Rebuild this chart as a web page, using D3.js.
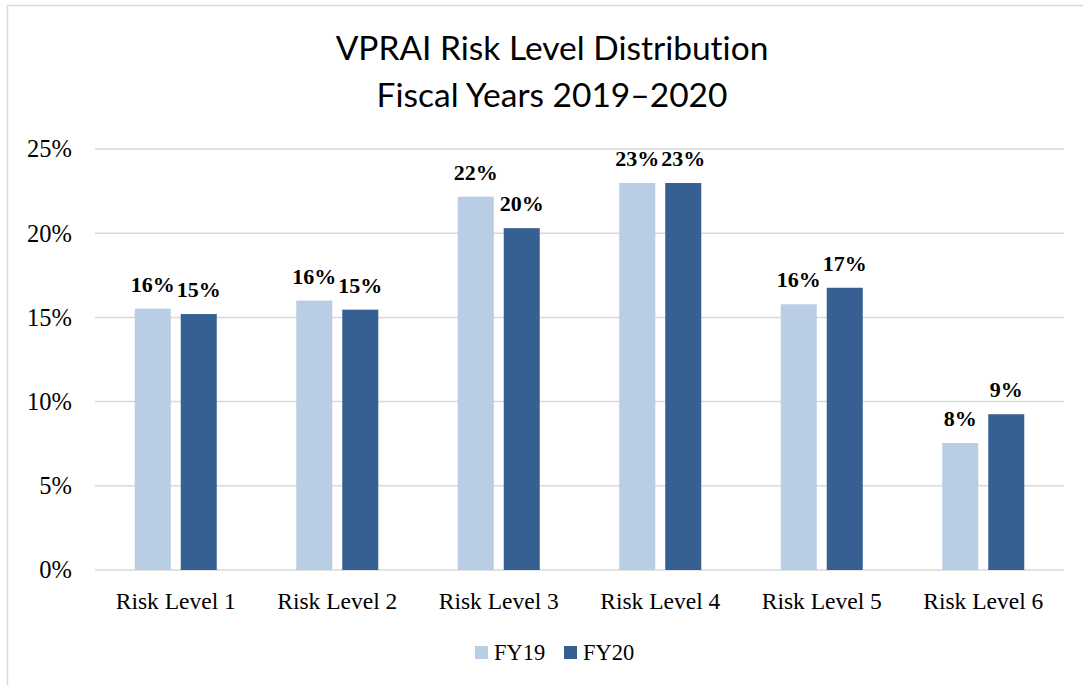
<!DOCTYPE html>
<html>
<head>
<meta charset="utf-8">
<script src="https://cdn.jsdelivr.net/npm/d3@7"></script>
<style>
  body { margin: 0; background: #fff; }
  svg { display: block; }
  text { font-variant-ligatures: none; }
</style>
</head>
<body>
<div id="chart"></div>
<script>

// data
const categories = ["Risk Level 1", "Risk Level 2", "Risk Level 3", "Risk Level 4", "Risk Level 5", "Risk Level 6"];
const seriesNames = ["FY19", "FY20"];
const fy19 = [0.1552, 0.160, 0.2217, 0.2298, 0.1578, 0.0754];
const fy20 = [0.1520, 0.1546, 0.2030, 0.2298, 0.1676, 0.0925];
const yTicks = [0, 0.05, 0.10, 0.15, 0.20, 0.25];
const titleLines = ["VPRAI Risk Level Distribution", "Fiscal Years 2019\u20132020"];

const colors = { FY19: "#B9CDE5", FY20: "#376092" };

const W = 1083, H = 685;
const margin = { top: 149, right: 19, bottom: 115, left: 95 };
const serif = "'Liberation Serif', 'Times New Roman', serif";
const sans = "Lato, 'Open Sans', sans-serif";

const svg = d3.select("#chart").append("svg").attr("width", W).attr("height", H);

// chart border
svg.append("rect")
   .attr("x", 7.5).attr("y", 5.5)
   .attr("width", W + 20).attr("height", H + 20)
   .attr("fill", "none").attr("stroke", "#D9D9D9").attr("stroke-width", 1.5);

const x0 = d3.scaleBand().domain(categories).range([margin.left, W - margin.right]).paddingInner(0.492).paddingOuter(0.246);
const x1 = d3.scaleBand().domain(seriesNames).range([0, x0.bandwidth()]).paddingInner(0.217);
const y = d3.scaleLinear().domain([0, 0.25]).range([H - margin.bottom, margin.top]);

const g = svg.append("g");

// gridlines
g.selectAll(".grid").data(yTicks).join("line")
  .attr("class", "grid")
  .attr("x1", margin.left).attr("x2", W - margin.right)
  .attr("y1", d => y(d)).attr("y2", d => y(d))
  .attr("stroke", "#D9D9D9").attr("stroke-width", 1.5);

// y axis labels
const yAxis = d3.axisLeft(y).tickValues(yTicks).tickFormat(d3.format(".0%")).tickSize(0).tickPadding(23);
g.append("g").attr("transform", `translate(${margin.left},0)`).call(yAxis)
  .call(a => a.select(".domain").remove())
  .call(a => a.selectAll("text").attr("font-family", serif).attr("font-size", 24.5).attr("fill", "#000"));

// x axis labels
const xAxis = d3.axisBottom(x0).tickSize(0).tickPadding(22);
g.append("g").attr("transform", `translate(0,${H - margin.bottom})`).call(xAxis)
  .call(a => a.select(".domain").remove())
  .call(a => a.selectAll("text").attr("font-family", serif).attr("font-size", 23.5).attr("fill", "#000"));

// bars
const rows = categories.map((c, i) => ({ cat: c, values: [{ s: "FY19", v: fy19[i] }, { s: "FY20", v: fy20[i] }] }));

const groups = g.selectAll(".grp").data(rows).join("g")
  .attr("class", "grp")
  .attr("transform", d => `translate(${x0(d.cat)},0)`);

groups.selectAll("rect").data(d => d.values).join("rect")
  .attr("x", d => x1(d.s))
  .attr("width", x1.bandwidth())
  .attr("y", d => y(d.v))
  .attr("height", d => y(0) - y(d.v))
  .attr("fill", d => colors[d.s]);

groups.selectAll(".lbl").data(d => d.values).join("text")
  .attr("class", "lbl")
  .attr("x", d => x1(d.s) + x1.bandwidth() / 2)
  .attr("y", d => y(d.v) - 17)
  .attr("text-anchor", "middle")
  .attr("font-family", serif).attr("font-weight", "bold").attr("font-size", 22)
  .text(d => d3.format(".0%")(d.v));

// title
svg.append("text")
  .attr("x", 552).attr("text-anchor", "middle")
  .attr("font-family", sans).attr("font-size", 33.5).attr("fill", "#000")
  .selectAll("tspan").data(titleLines).join("tspan")
  .attr("x", 552).attr("y", (d, i) => 60 + i * 47)
  .text(d => d);

// legend
const legend = svg.append("g").attr("transform", "translate(475,646)");
const items = legend.selectAll("g").data(seriesNames).join("g")
  .attr("transform", (d, i) => `translate(${i * 89},0)`);
items.append("rect").attr("width", 13).attr("height", 13).attr("fill", d => colors[d]);
items.append("text").attr("x", 19).attr("y", 14)
  .attr("font-family", serif).attr("font-size", 22.5).attr("fill", "#000")
  .text(d => d);

</script>
</body>
</html>
